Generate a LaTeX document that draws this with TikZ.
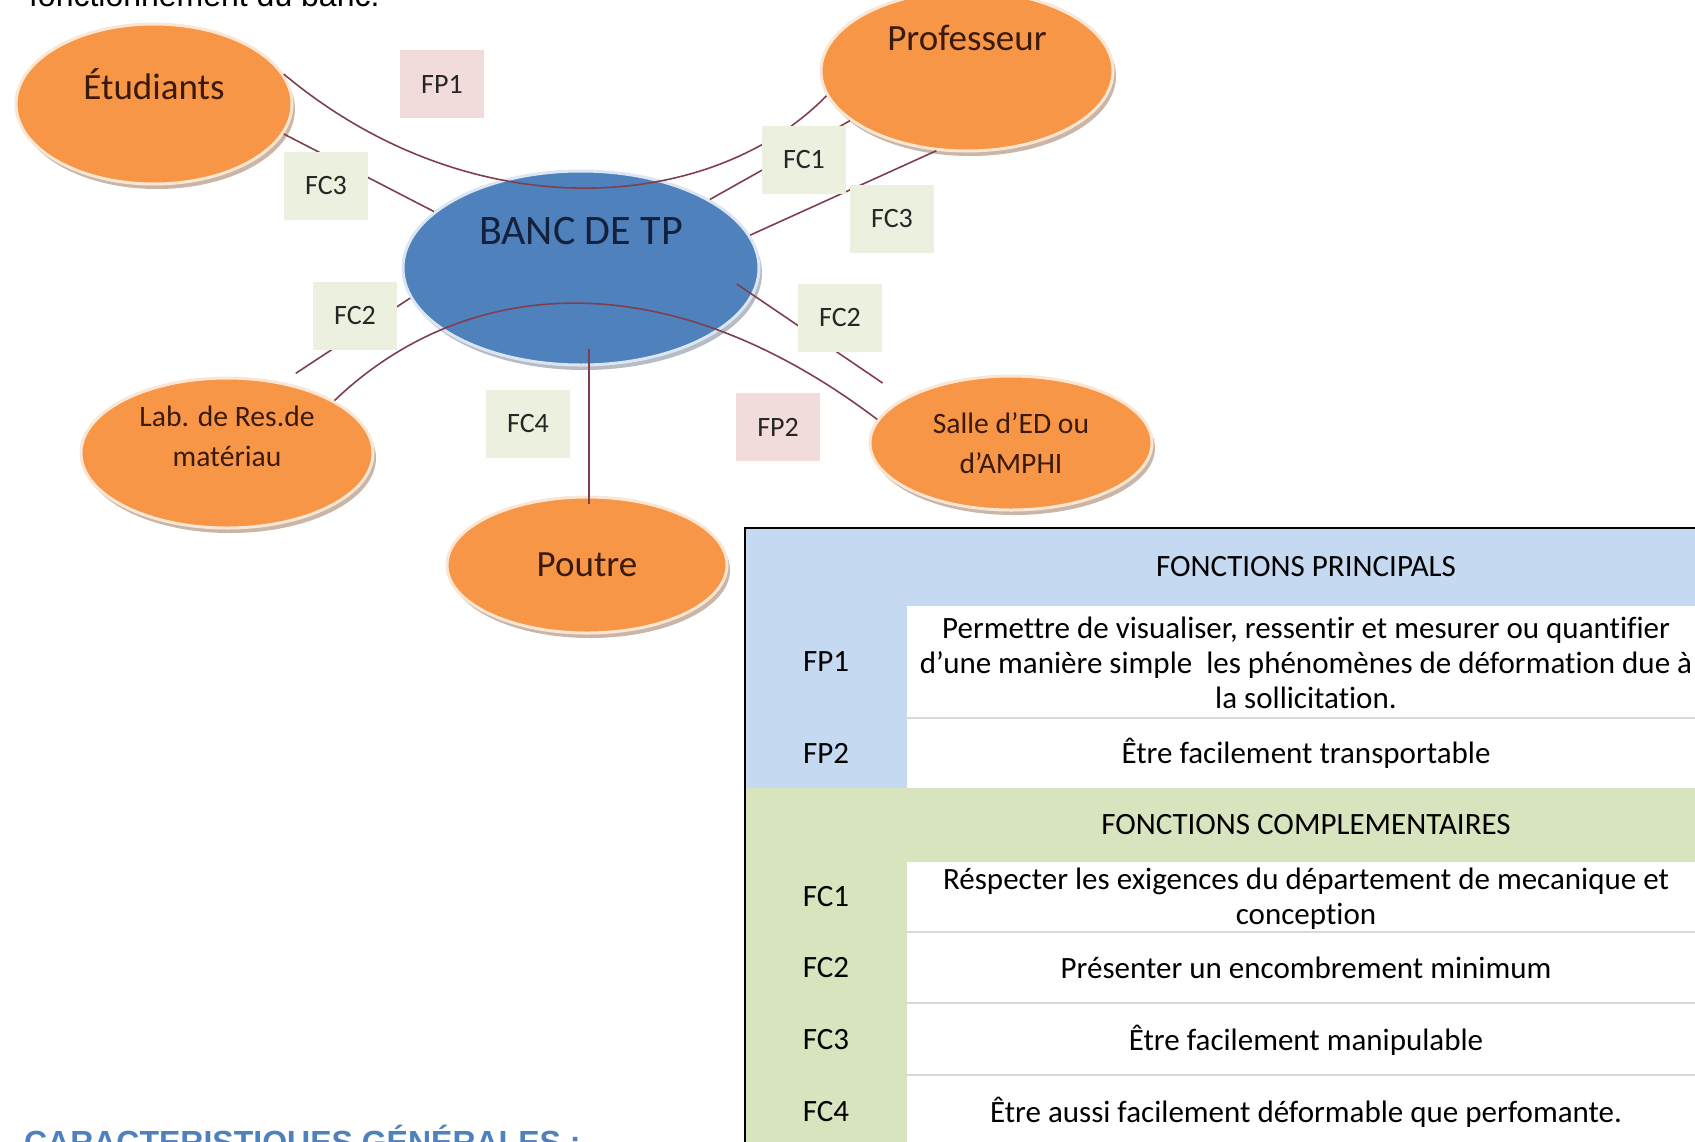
\documentclass[tikz,border=0pt]{standalone}
\usepackage{fontspec}
\setmainfont{Carlito}[Ligatures=NoCommon]
\newfontfamily\arialfont{Liberation Sans}
\usetikzlibrary{shapes.geometric,shadows}

\definecolor{orangeA}{HTML}{F79646}
\definecolor{rimA}{HTML}{FBE6D4}
\definecolor{ombreA}{HTML}{8B5A3C}
\definecolor{brunA}{HTML}{3A1A0A}
\definecolor{bleuB}{HTML}{4F81BD}
\definecolor{rimB}{HTML}{DCE6F2}
\definecolor{ombreB}{HTML}{5A6A80}
\definecolor{navyB}{HTML}{14213D}
\definecolor{vertC}{HTML}{EBF1DE}
\definecolor{roseP}{HTML}{F2DCDB}
\definecolor{lienR}{HTML}{7F3F4F}
\definecolor{bleuT}{HTML}{C5D9F1}
\definecolor{vertT}{HTML}{D7E4BD}
\definecolor{grisT}{HTML}{D9D9D9}
\definecolor{titreB}{HTML}{4F81BD}

\begin{document}
\begin{tikzpicture}[x=0.5pt,y=-0.5pt,
    acteur/.style={ellipse, fill=orangeA, draw=rimA, line width=1.5pt,
      drop shadow={shadow xshift=1.5pt, shadow yshift=-2.5pt, fill=ombreA, opacity=0.45}},
    acttxt/.style={font=\fontsize{18.5}{22}\selectfont, text=brunA, align=center},
    petittxt/.style={font=\fontsize{14.8}{20}\selectfont, text=brunA, align=center},
    fonction/.style={rectangle, minimum width=42pt, minimum height=34pt,
      font=\fontsize{14}{16}\selectfont, text=black!85},
    fcbox/.style={fonction, fill=vertC},
    fpbox/.style={fonction, fill=roseP},
    lien/.style={draw=lienR, line width=0.8pt},
    tabtxt/.style={font=\fontsize{15.5}{17.5}\selectfont, align=center}]
        \useasboundingbox (0,0) rectangle (1695,1141);
        \clip (0,0) rectangle (1695,1141);

        % Texte du document autour de la figure
        \node[anchor=base west, font=\arialfont\fontsize{16}{19}\selectfont] (intro) at (22,6) {fonctionnement du banc.};
        \node[anchor=base west, font=\arialfont\bfseries\fontsize{16}{19}\selectfont, text=titreB] (caract) at (17,1153) {CARACTERISTIQUES GÉNÉRALES :};

        % Le banc et les elements du milieu exterieur
        \node[ellipse, fill=bleuB, draw=rimB, line width=1.5pt, minimum width=178pt, minimum height=97pt,
          drop shadow={shadow xshift=1.5pt, shadow yshift=-2.5pt, fill=ombreB, opacity=0.45},
          label={[font=\fontsize{21}{24}\selectfont, text=navyB, yshift=18.5pt]center:BANC DE TP}] (banc) at (581,268) {};
        \node[acteur, minimum width=138pt, minimum height=80pt, label={[acttxt, yshift=10pt]center:Étudiants}] (etud) at (154,104) {};
        \node[acteur, minimum width=146pt, minimum height=80pt, label={[acttxt, yshift=16.5pt]center:Professeur}] (prof) at (967,71) {};
        \node[acteur, minimum width=146pt, minimum height=75pt, label={[petittxt, yshift=8.5pt]center:Lab. de Res.de\\matériau}] (lab) at (227,453) {};
        \node[acteur, minimum width=140pt, minimum height=68pt, label={[acttxt]center:Poutre}] (poutre) at (587,565) {};
        \node[acteur, minimum width=141pt, minimum height=67pt, label={[petittxt]center:Salle d’ED ou\\d’AMPHI}] (salle) at (1011,443) {};

        % Les liens
        \draw[lien] (etud.13) .. controls (470,230) and (710,215) .. (prof.190);
        \draw[lien] (lab.26) .. controls (460,280) and (660,255) .. (salle.170);
        \draw[lien] (etud.-13) -- (banc.159);
        \draw[lien] (banc.28) -- (prof.203);
        \draw[lien] (banc.11) -- (prof.249);
        \draw[lien, shorten <=8pt] (lab.52) -- (banc.190);
        \draw[lien, shorten <=-10pt, shorten >=13pt] (banc.-9) -- (salle.157);
        \draw[lien, shorten <=-9pt, shorten >=-4pt] ([xshift=4pt]banc.south) -- ([xshift=4pt]banc.south |- poutre.north);

        % Les fonctions sur les liens
        \node[fpbox] (fp1) at (442,84) {FP1};
        \node[fcbox] (fc3a) at (326,186) {FC3};
        \node[fcbox] (fc1) at (804,160) {FC1};
        \node[fcbox] (fc3b) at (892,219) {FC3};
        \node[fcbox] (fc2a) at (355,316) {FC2};
        \node[fcbox] (fc2b) at (840,318) {FC2};
        \node[fcbox] (fc4) at (528,424) {FC4};
        \node[fpbox] (fp2) at (778,427) {FP2};

        % Tableau des fonctions
        \fill[bleuT] (745,528) rectangle (1720,788);
        \fill[vertT] (745,788) rectangle (1720,1160);
        \fill[white] (907,606) rectangle (1720,788);
        \fill[white] (907,862) rectangle (1720,1160);
        \foreach \y in {718,932,1003,1075}
            \draw[grisT, line width=1pt] (907,\y) -- (1720,\y);
        \draw[line width=1pt] (745,1160) -- (745,528) -- (1720,528);

        \node[tabtxt] (hfp) at (1306,567) {FONCTIONS PRINCIPALS};
        \node[tabtxt] (tfp1) at (826,662) {FP1};
        \node[tabtxt] (dfp1) at (1306,663) {Permettre de visualiser, ressentir et mesurer ou quantifier\\d’une manière simple~ les phénomènes de déformation due à\\la sollicitation.};
        \node[tabtxt] (tfp2) at (826,753) {FP2};
        \node[tabtxt] (dfp2) at (1306,753) {Être facilement transportable};
        \node[tabtxt] (hfc) at (1306,825) {FONCTIONS COMPLEMENTAIRES};
        \node[tabtxt] (tfc1) at (826,897) {FC1};
        \node[tabtxt] (dfc1) at (1306,899) {Réspecter les exigences du département de mecanique et\\conception};
        \node[tabtxt] (tfc2) at (826,968) {FC2};
        \node[tabtxt] (dfc2) at (1306,968) {Présenter un encombrement minimum};
        \node[tabtxt] (tfc3) at (826,1040) {FC3};
        \node[tabtxt] (dfc3) at (1306,1040) {Être facilement manipulable};
        \node[tabtxt] (tfc4) at (826,1112) {FC4};
        \node[tabtxt] (dfc4) at (1306,1112) {Être aussi facilement déformable que perfomante.};
    \end{tikzpicture}
\end{document}
